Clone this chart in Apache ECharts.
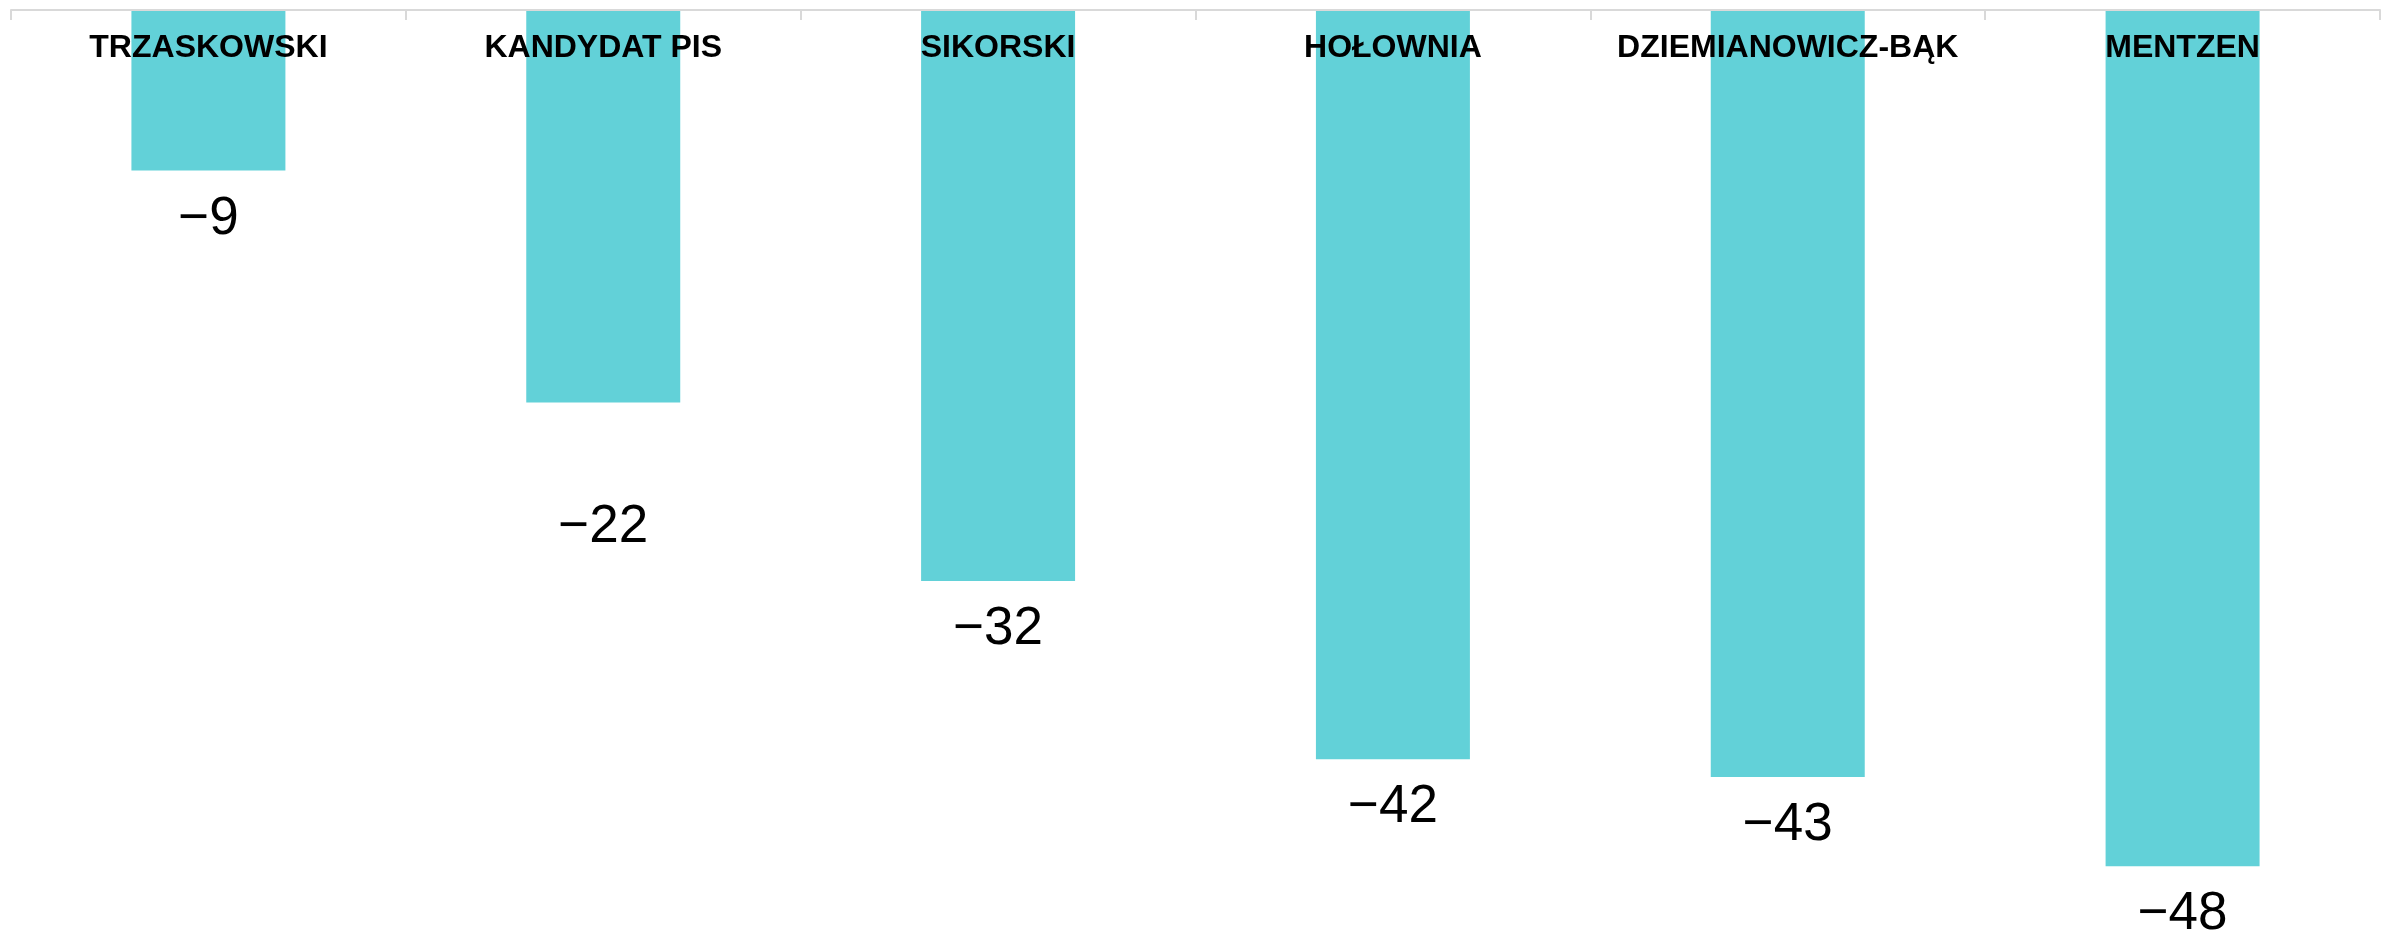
<!DOCTYPE html>
<html>
<head>
    <meta charset="utf-8" />
    <title>Bar chart</title>
    <script src="https://cdn.jsdelivr.net/npm/echarts@6/dist/echarts.min.js"></script>
    <style>
        html, body { margin: 0; padding: 0; background: #fff; }
    </style>
</head>
<body>
    <div id="main" style="width:2392px;height:935px"></div>
    <script type="text/javascript">

        var categories = ['TRZASKOWSKI', 'KANDYDAT PIS', 'SIKORSKI', 'HOŁOWNIA', 'DZIEMIANOWICZ-BĄK', 'MENTZEN'];
        var values = [-9, -22, -32, -42, -43, -48];

        var chartDom = document.getElementById('main');
        var myChart = echarts.init(chartDom);
        var option;

        var data = values.map(function (v, i) {
            var item = { value: v };
            // the -22 label sits lower in the original
            if (i === 1) {
                item.label = { offset: [0, 76] };
            }
            return item;
        });

        option = {
            animation: false,
            grid: {
                left: 11,
                right: 12,
                top: 10,
                bottom: 33,
                containLabel: false
            },
            xAxis: {
                type: 'category',
                position: 'top',
                data: categories,
                z: 10,
                axisLine: {
                    show: true,
                    lineStyle: { color: '#d9d9d9', width: 2 }
                },
                axisTick: {
                    show: true,
                    inside: true,
                    length: 10,
                    alignWithLabel: false,
                    lineStyle: { color: '#d9d9d9', width: 2 }
                },
                axisLabel: {
                    inside: true,
                    margin: 22,
                    color: '#000',
                    fontFamily: 'Liberation Sans',
                    fontWeight: 'bold',
                    fontSize: 32,
                    interval: 0
                }
            },
            yAxis: {
                type: 'value',
                min: -50,
                max: 0,
                show: false,
                splitLine: { show: false }
            },
            series: [{
                type: 'bar',
                data: data,
                barWidth: '39%',
                itemStyle: { color: '#62d1d8' },
                label: {
                    show: true,
                    position: 'bottom',
                    distance: 22,
                    color: '#000',
                    fontFamily: 'Liberation Sans',
                    fontSize: 53,
                    formatter: function (p) {
                        return p.value < 0 ? '\u2212' + Math.abs(p.value) : String(p.value);
                    }
                }
            }]
        };

        option && myChart.setOption(option);

    </script>
</body>
</html>
